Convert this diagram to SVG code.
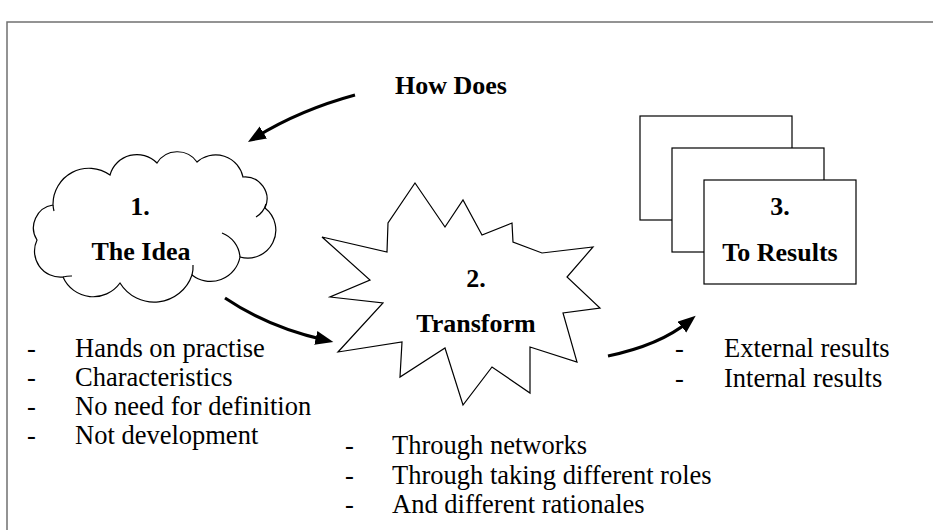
<svg xmlns="http://www.w3.org/2000/svg" width="933" height="530" viewBox="0 0 933 530">
<defs>
<marker id="ah" markerUnits="userSpaceOnUse" markerWidth="20" markerHeight="16" refX="8" refY="7" orient="auto">
<path d="M0,0 L18,7 L0,14 z" fill="#000"/>
</marker>
<style>
.shape{fill:#fff;stroke:#000;stroke-width:1.2;stroke-linejoin:miter}
.inner{fill:none;stroke:#000;stroke-width:1.2}
.b{font-family:"Liberation Serif","Times New Roman",serif;font-weight:bold;font-size:26px;fill:#000;text-anchor:middle}
.t{font-family:"Liberation Serif","Times New Roman",serif;font-size:26.5px;fill:#000}
.conn{fill:none;stroke:#000;stroke-width:3;marker-end:url(#ah)}
.frame{fill:none;stroke:#707070;stroke-width:1.5}
</style>
</defs>
<rect width="933" height="530" fill="#fff"/>
<path class="frame" d="M933,22 H7 V530"/>

<g id="how-does">
<text class="b" x="451" y="94">How Does</text>
</g>

<g id="idea">
<path class="shape" d="M53,205 A36,36 0 0 1 110,175 A28,28 0 0 1 157,163 A24,24 0 0 1 197,162 A28,28 0 0 1 243,177 A22,22 0 0 1 265,208 A28,28 0 0 1 240,257 A30,30 0 0 1 192,275 A40,40 0 0 1 120,283 A33,33 0 0 1 63,277 A26,26 0 0 1 37,240 A23,23 0 0 1 53,205 z"/>
<path class="inner" d="M222,233 A28,28 0 0 1 240,257"/>
<path class="inner" d="M266,204 A22,22 0 0 1 256,217"/>
<path class="inner" d="M192,275 A30,30 0 0 0 193,265"/>
<path class="inner" d="M63,277 A33,33 0 0 1 72,276"/>
<path class="inner" d="M53,205 A36,36 0 0 0 54,211"/>
<text class="b" x="140" y="215">1.</text>
<text class="b" x="141" y="260">The Idea</text>
</g>

<g id="transform">
<path class="shape" d="M415,183 L445,227 L463,200 L482,235 L512,223 L513,242 L542,253 L593,247 L567,277 L600,308 L563,313 L577,362 L530,347 L530,393 L492,367 L463,405 L445,348 L400,377 L402,342 L338,352 L383,303 L330,297 L370,280 L322,237 L387,252 L388,223 z"/>
<text class="b" x="476" y="287">2.</text>
<text class="b" x="476" y="332">Transform</text>
</g>

<g id="results">
<rect class="shape" x="640" y="116" width="152" height="104"/>
<rect class="shape" x="672" y="148" width="152" height="104"/>
<rect class="shape" x="704" y="180" width="152" height="104"/>
<text class="b" x="780" y="215">3.</text>
<text class="b" x="780" y="261">To Results</text>
</g>

<g id="connectors">
<path class="conn" d="M355,95 Q300,110 256.5,136.7"/>
<path class="conn" d="M225,298 Q268,327 323.6,339.7"/>
<path class="conn" d="M608,356 Q660,345 688,322"/>
</g>

<g id="idea-notes">
<text class="t" x="27" y="357">-</text><text class="t" x="75" y="357">Hands on practise</text>
<text class="t" x="27" y="386">-</text><text class="t" x="75" y="386">Characteristics</text>
<text class="t" x="27" y="415">-</text><text class="t" x="75" y="415">No need for definition</text>
<text class="t" x="27" y="444">-</text><text class="t" x="75" y="444">Not development</text>
</g>

<g id="transform-notes">
<text class="t" x="345" y="454">-</text><text class="t" x="392" y="454">Through networks</text>
<text class="t" x="345" y="484">-</text><text class="t" x="392" y="484">Through taking different roles</text>
<text class="t" x="345" y="513">-</text><text class="t" x="392" y="513">And different rationales</text>
</g>

<g id="results-notes">
<text class="t" x="675" y="357">-</text><text class="t" x="724" y="357">External results</text>
<text class="t" x="675" y="387">-</text><text class="t" x="724" y="387">Internal results</text>
</g>
</svg>
